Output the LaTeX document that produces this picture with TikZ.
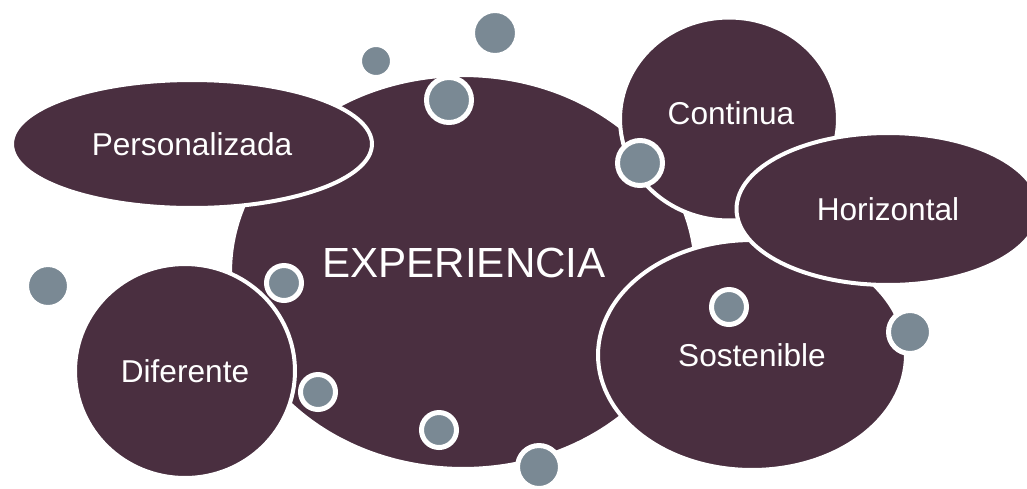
\documentclass[tikz,border=0pt]{standalone}
\usepackage{fontspec}
\setmainfont{Liberation Sans}
\usetikzlibrary{shapes.geometric}

\definecolor{plum}{HTML}{4A2F40}
\definecolor{slate}{HTML}{7A8994}

\tikzset{
  blob/.style={ellipse, fill=plum, draw=white, line width=0.08cm, inner sep=0pt,
               text=white, font=\fontsize{18}{20}\selectfont},
  bubble/.style={circle, fill=slate, draw=white, line width=0.1cm, inner sep=0pt}
}

\begin{document}
\begin{tikzpicture}[x=0.02cm, y=-0.02cm]
\useasboundingbox (0,0) rectangle (1027,488);

% main ellipse in the middle
\node[blob, minimum width=9.32cm, minimum height=7.88cm,
      font=\fontsize{24}{28}\selectfont] (exp) at (463,272) {};
\node[text=white, font=\fontsize{24}{28}\selectfont] (explabel) at (464,263) {EXPERIENCIA};

% the shapes around it, drawn in stacking order
\node[blob, minimum width=7.2cm, minimum height=2.56cm] (pers) at (192,144) {Personalizada};
\node[blob, minimum width=4.4cm, minimum height=4.28cm] (dif) at (185,371) {Diferente};
\node[blob, minimum width=4.36cm, minimum height=4.06cm] (cont) at (729,119) {};
\node[text=white, font=\fontsize{18}{20}\selectfont] (contlabel) at (731,113) {Continua};
\node[blob, minimum width=6.16cm, minimum height=4.6cm] (sost) at (752,355) {Sostenible};
\node[blob, minimum width=6.06cm, minimum height=3.04cm] (hor) at (888,209) {};
\node[text=white, font=\fontsize{18}{20}\selectfont] (horlabel) at (888,209) {Horizontal};

% small grey bubbles: x / y / radius (px)
\foreach \x/\y/\r [count=\i] in {495/33/20, 376/61/14, 449/100/20, 640/163/20,
                                 48/286/19, 284/283/15, 318/392/15, 439/430/15,
                                 539/467/19, 729/307/15, 910/332/19}
	\node[bubble, minimum size={(2*\r+5)*0.02cm}] (b\i) at (\x,\y) {};

\end{tikzpicture}
\end{document}
